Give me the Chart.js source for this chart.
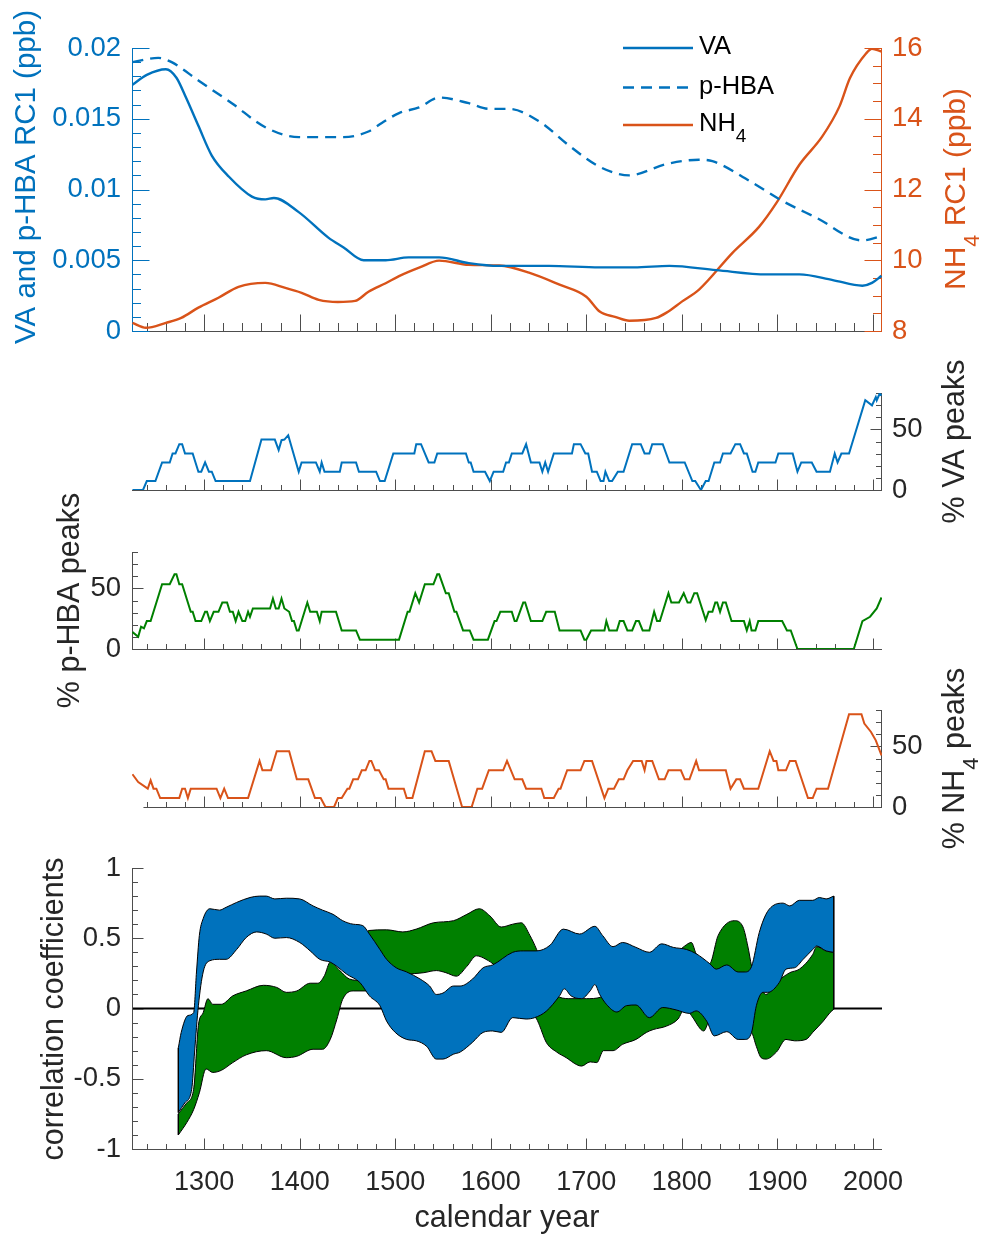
<!DOCTYPE html>
<html>
<head>
<meta charset="utf-8">
<title>VA, p-HBA and NH4 records</title>
<script src="https://cdn.jsdelivr.net/npm/chart.js@4.4.1/dist/chart.umd.min.js"></script>
<style>
  html, body { margin: 0; padding: 0; background: #fff; }
  #wrap { position: relative; width: 981px; height: 1234px; }
  #wrap canvas { position: absolute; left: 0; top: 0; }
</style>
</head>
<body>
<div id="wrap">
  <canvas id="rcChart" width="981" height="1234"></canvas>
  <canvas id="vaPeakChart" width="981" height="1234"></canvas>
  <canvas id="hbaPeakChart" width="981" height="1234"></canvas>
  <canvas id="nhPeakChart" width="981" height="1234"></canvas>
  <canvas id="corrChart" width="981" height="1234"></canvas>
</div>
<script>
const FONT = "'Liberation Sans', Arial, Helvetica, sans-serif";
const BLUE = "#0072BD";
const ORANGE = "#D95319";
const GREEN = "#008000";
const AXIS = "#4d4d4d";
const TEXT = "#262626";

const yearMin = 1224.5;
const yearMax = 2009.5;

// top panel: RC1 reconstructions [year, value]
const vaRC = [[1225,0.0174],[1240,0.0181],[1260,0.0185],[1271,0.0179],[1281,0.0165],[1294,0.0145],[1308,0.0124],[1326,0.0109],[1350,0.0095],[1364,0.0093],[1373,0.0094],[1399,0.0084],[1430,0.0066],[1446,0.0059],[1467,0.0050],[1490,0.0050],[1514,0.0052],[1546,0.0052],[1577,0.0048],[1609,0.0046],[1661,0.0046],[1714,0.0045],[1750,0.0045],[1787,0.0046],[1836,0.0043],[1889,0.0040],[1923,0.0040],[1958,0.0036],[1989,0.0032],[1999,0.0034],[2009,0.0039]];
const hbaRC = [[1225,0.0190],[1252,0.0193],[1266,0.0190],[1294,0.0177],[1329,0.0161],[1364,0.0144],[1399,0.0137],[1420,0.0137],[1446,0.0137],[1472,0.0141],[1486,0.0147],[1504,0.0154],[1525,0.0158],[1546,0.0165],[1577,0.0161],[1598,0.0157],[1619,0.0157],[1651,0.0148],[1682,0.0131],[1714,0.0116],[1745,0.0110],[1784,0.0118],[1818,0.0121],[1832,0.0120],[1871,0.0106],[1905,0.0092],[1941,0.0080],[1989,0.0064],[2009,0.0067]];
const nhRC = [[1225,8.23],[1239,8.09],[1260,8.23],[1276,8.37],[1294,8.66],[1315,8.94],[1336,9.25],[1364,9.36],[1385,9.22],[1402,9.08],[1420,8.88],[1440,8.82],[1458,8.85],[1472,9.11],[1490,9.35],[1504,9.55],[1525,9.79],[1546,9.99],[1577,9.87],[1609,9.85],[1640,9.65],[1672,9.31],[1700,8.97],[1714,8.55],[1730,8.40],[1745,8.29],[1773,8.37],[1784,8.52],[1800,8.83],[1818,9.17],[1853,10.21],[1881,10.95],[1899,11.62],[1923,12.7],[1947,13.5],[1965,14.35],[1976,15.15],[1993,15.85],[1999,15.98],[2009,15.9]];

// peak percentages [year, %]
const vaPeaks = [[1225,0],[1236,0],[1240,7.4],[1249,7.4],[1256,22.7],[1264,22.7],[1267,30.1],[1270,30.1],[1274,37.8],[1277,37.8],[1280,30.1],[1288,30.1],[1294,15.1],[1297,15.1],[1301,22.7],[1305,15.1],[1308,15.1],[1312,7.4],[1348,7.4],[1360,41.6],[1374,41.6],[1378,32.9],[1381,41.1],[1384,41.6],[1388,45.2],[1399,15.1],[1402,22.7],[1417,22.7],[1421,15.1],[1423,22.7],[1426,15.1],[1442,15.1],[1444,22.7],[1459,22.7],[1462,15.1],[1480,15.1],[1484,7.4],[1489,7.4],[1498,30.1],[1520,30.1],[1522,37.8],[1527,37.8],[1535,22.7],[1541,22.7],[1544,30.1],[1574,30.1],[1577,22.7],[1579,22.7],[1582,15.1],[1594,15.1],[1599,7.4],[1603,15.1],[1613,15.1],[1616,22.7],[1619,22.7],[1622,30.1],[1633,30.1],[1637,37.8],[1642,22.7],[1651,22.7],[1654,15.1],[1657,22.7],[1660,15.1],[1666,30.1],[1685,30.1],[1687,37.8],[1694,37.8],[1699,30.1],[1702,30.1],[1706,15.1],[1711,15.1],[1715,7.4],[1718,7.4],[1720,15.1],[1724,7.4],[1727,7.4],[1733,15.1],[1739,15.1],[1748,37.8],[1757,37.8],[1761,30.1],[1766,30.1],[1769,37.8],[1780,37.8],[1787,22.7],[1803,22.7],[1811,7.4],[1814,7.4],[1820,0],[1825,7.4],[1828,7.4],[1834,22.7],[1840,22.7],[1843,30.1],[1851,30.1],[1856,37.8],[1861,37.8],[1865,30.1],[1868,30.1],[1874,15.1],[1877,15.1],[1880,22.7],[1898,22.7],[1901,30.1],[1916,30.1],[1921,15.1],[1925,22.7],[1936,22.7],[1941,15.1],[1955,15.1],[1960,30.1],[1963,22.7],[1967,30.1],[1975,30.1],[1992,74],[1999,69.8],[2003,76.7],[2004,74],[2007,79.4],[2009,78]];
const hbaPeaks = [[1225,14],[1231,10.1],[1234,18.4],[1237,17],[1240,23],[1244,23],[1256,53.4],[1264,53.4],[1269,61.6],[1271,61.6],[1274,53.4],[1277,53.4],[1286,30.7],[1288,30.7],[1291,23],[1297,23],[1301,30.7],[1303,30.7],[1306,23],[1310,30.7],[1315,30.7],[1319,38.3],[1324,38.3],[1327,30.7],[1330,30.7],[1333,23],[1336,30.7],[1340,23],[1343,23],[1346,30.7],[1348,26.6],[1351,33.4],[1369,33.4],[1372,41.6],[1375,33.4],[1378,33.4],[1381,41.6],[1384,33.4],[1389,30.7],[1392,23],[1394,23],[1397,15.3],[1399,15.3],[1408,38.3],[1411,30.7],[1418,30.7],[1421,23],[1423,30.7],[1438,30.7],[1444,15.3],[1459,15.3],[1463,7.7],[1504,7.7],[1513,30.7],[1515,30.7],[1521,46],[1525,38.3],[1531,53.4],[1540,53.4],[1544,61.6],[1546,61.6],[1553,46],[1556,46],[1562,30.7],[1564,30.7],[1571,15.3],[1578,15.3],[1582,7.7],[1597,7.7],[1604,23],[1606,23],[1610,30.7],[1622,30.7],[1625,23],[1627,23],[1634,38.3],[1636,38.3],[1642,23],[1654,23],[1658,30.7],[1667,30.7],[1672,15.3],[1694,15.3],[1698,7.7],[1700,7.7],[1705,15.3],[1719,15.3],[1721,23],[1724,15.3],[1732,15.3],[1735,23],[1739,23],[1743,15.3],[1748,15.3],[1752,23],[1755,23],[1759,15.3],[1766,15.3],[1771,30.7],[1774,23],[1777,23],[1786,46],[1789,38.3],[1797,38.3],[1802,46],[1806,38.3],[1809,38.3],[1813,46],[1816,46],[1825,23.8],[1828,30.7],[1832,30.7],[1835,38.3],[1837,38.3],[1840,30.7],[1843,38.3],[1846,38.3],[1852,23],[1865,23],[1868,15.3],[1871,23],[1873,15.3],[1877,15.3],[1880,23],[1905,23],[1910,15.3],[1914,15.3],[1921,0],[1980,0],[1989,23],[1997,26.6],[2004,33.4],[2009,42.5]];
const nhPeaks = [[1225,27],[1231,20.6],[1241,15.1],[1244,22],[1247,15.1],[1250,15.1],[1254,7.4],[1274,7.4],[1277,15.1],[1280,15.1],[1283,7.4],[1286,15.1],[1313,15.1],[1317,7.4],[1321,15.1],[1325,7.4],[1346,7.4],[1358,38],[1361,30.3],[1370,30.3],[1376,46],[1389,46],[1397,22.8],[1409,22.8],[1416,7.4],[1422,7.4],[1427,0],[1436,0],[1440,7.4],[1444,7.4],[1450,15.1],[1452,15.1],[1456,22.8],[1461,22.8],[1465,30.3],[1469,30.3],[1473,38],[1475,38],[1479,30.3],[1483,30.3],[1488,22.8],[1490,22.8],[1493,15.1],[1509,15.1],[1512,7.4],[1518,7.4],[1531,46],[1538,46],[1542,38],[1556,38],[1570,0],[1580,0],[1586,15.1],[1591,15.1],[1598,30.3],[1613,30.3],[1617,38],[1625,22.8],[1633,22.8],[1637,15.1],[1653,15.1],[1656,7.4],[1666,7.4],[1671,15.1],[1673,15.1],[1680,30.3],[1694,30.3],[1698,38],[1706,38],[1719,7.4],[1723,15.1],[1729,15.1],[1734,22.8],[1739,22.8],[1743,30.3],[1749,38],[1758,38],[1761,30.3],[1763,38],[1769,38],[1776,22.8],[1782,22.8],[1786,30.3],[1799,30.3],[1803,22.8],[1808,22.8],[1815,38],[1818,30.3],[1846,30.3],[1851,15.1],[1857,22.8],[1861,22.8],[1865,15.1],[1880,15.1],[1892,46],[1896,38],[1899,38],[1901,30.3],[1909,30.3],[1913,38],[1919,38],[1932,7.4],[1937,7.4],[1941,15.1],[1953,15.1],[1975,76.5],[1988,76.5],[1991,68.8],[1998,61.9],[2003,55],[2009,42.6]];

// correlation bands: upper and lower edges [year, r]
const blueTop = [[1273,-0.28],[1276,-0.17],[1283,-0.05],[1289,-0.03],[1292,0.26],[1295,0.52],[1299,0.64],[1306,0.71],[1316,0.70],[1323,0.72],[1334,0.755],[1348,0.79],[1358,0.80],[1365,0.80],[1374,0.78],[1386,0.785],[1400,0.78],[1414,0.73],[1424,0.70],[1435,0.67],[1445,0.625],[1456,0.60],[1466,0.59],[1473,0.53],[1484,0.42],[1491,0.35],[1501,0.29],[1512,0.26],[1526,0.21],[1536,0.16],[1543,0.10],[1550,0.11],[1561,0.16],[1568,0.16],[1581,0.21],[1592,0.29],[1602,0.31],[1623,0.40],[1634,0.41],[1648,0.41],[1662,0.45],[1676,0.565],[1693,0.53],[1709,0.585],[1717,0.52],[1728,0.44],[1738,0.47],[1752,0.435],[1766,0.40],[1779,0.46],[1791,0.435],[1805,0.42],[1815,0.39],[1829,0.32],[1836,0.28],[1847,0.31],[1859,0.26],[1866,0.26],[1873,0.30],[1881,0.54],[1888,0.67],[1895,0.73],[1906,0.75],[1913,0.73],[1923,0.77],[1937,0.77],[1944,0.79],[1951,0.78],[1959,0.80]];
const blueBot = [[1273,-0.74],[1280,-0.67],[1287,-0.575],[1290,-0.31],[1294,0.02],[1299,0.26],[1306,0.34],[1316,0.35],[1323,0.35],[1334,0.42],[1344,0.505],[1355,0.545],[1365,0.53],[1374,0.50],[1386,0.505],[1400,0.47],[1411,0.41],[1421,0.35],[1432,0.33],[1439,0.30],[1449,0.245],[1463,0.185],[1473,0.09],[1484,0.02],[1491,-0.09],[1500,-0.17],[1512,-0.22],[1522,-0.23],[1533,-0.27],[1543,-0.36],[1550,-0.36],[1561,-0.325],[1568,-0.31],[1581,-0.24],[1592,-0.17],[1602,-0.16],[1611,-0.17],[1623,-0.065],[1637,-0.075],[1646,-0.065],[1658,-0.02],[1672,0.09],[1677,0.14],[1684,0.09],[1695,0.07],[1704,0.125],[1709,0.17],[1714,0.10],[1721,0.03],[1732,-0.025],[1742,0.02],[1752,0.025],[1766,-0.065],[1780,0.007],[1794,-0.01],[1808,-0.035],[1815,-0.017],[1826,-0.09],[1834,-0.195],[1847,-0.165],[1859,-0.22],[1866,-0.22],[1873,-0.17],[1878,0.02],[1885,0.115],[1890,0.115],[1902,0.185],[1909,0.28],[1918,0.29],[1927,0.35],[1937,0.42],[1941,0.445],[1951,0.41],[1959,0.40]];
const greenTop = [[1273,-0.75],[1282,-0.67],[1289,-0.575],[1294,-0.12],[1299,-0.03],[1304,0.07],[1309,0.03],[1318,0.03],[1330,0.09],[1344,0.125],[1362,0.165],[1376,0.15],[1386,0.115],[1397,0.125],[1411,0.18],[1419,0.18],[1426,0.235],[1432,0.33],[1442,0.27],[1452,0.21],[1464,0.20],[1472,0.555],[1491,0.56],[1508,0.545],[1522,0.565],[1540,0.61],[1561,0.625],[1575,0.67],[1588,0.71],[1599,0.66],[1611,0.58],[1623,0.60],[1632,0.61],[1641,0.52],[1648,0.42],[1660,0.2],[1672,0.08],[1684,0.07],[1700,0.07],[1715,0.08],[1740,0.2],[1770,0.3],[1795,0.40],[1803,0.445],[1810,0.47],[1815,0.39],[1829,0.32],[1838,0.52],[1855,0.625],[1864,0.58],[1869,0.445],[1873,0.30],[1878,0.15],[1885,0.115],[1888,0.10],[1899,0.185],[1913,0.255],[1923,0.28],[1937,0.385],[1941,0.44],[1951,0.41],[1959,0.40]];
const greenBot = [[1273,-0.9],[1282,-0.81],[1289,-0.72],[1295,-0.6],[1302,-0.43],[1309,-0.455],[1318,-0.44],[1330,-0.385],[1344,-0.33],[1365,-0.30],[1386,-0.35],[1397,-0.34],[1414,-0.29],[1424,-0.29],[1432,-0.22],[1439,-0.075],[1445,0.065],[1456,0.125],[1470,0.125],[1490,0.2],[1510,0.24],[1530,0.255],[1543,0.27],[1553,0.255],[1564,0.23],[1575,0.30],[1585,0.375],[1595,0.35],[1605,0.30],[1625,0.1],[1648,-0.075],[1651,-0.12],[1658,-0.24],[1669,-0.31],[1679,-0.35],[1690,-0.40],[1695,-0.41],[1704,-0.38],[1711,-0.385],[1718,-0.30],[1728,-0.30],[1738,-0.255],[1752,-0.22],[1763,-0.17],[1770,-0.15],[1784,-0.125],[1796,-0.075],[1803,0.0],[1810,-0.05],[1820,-0.15],[1823,-0.16],[1829,-0.09],[1850,-0.1],[1866,-0.15],[1873,-0.17],[1878,-0.27],[1883,-0.35],[1888,-0.36],[1899,-0.31],[1909,-0.22],[1918,-0.23],[1930,-0.22],[1937,-0.17],[1948,-0.09],[1955,-0.03],[1959,-0.005]];

const xTickStep = 20;
const xLabelStep = 100;

const pts = arr => arr.map(p => ({ x: p[0], y: p[1] }));
const isMultiple = (v, step) => Math.abs(v / step - Math.round(v / step)) < 1e-6;

// draws text, "_4" style markers become subscripts
function richText(ctx, text, x, y, size, color, rotated) {
  const parts = text.split(/_(\w)/);
  const subSize = size * 0.72;
  const fontFor = i => (i % 2 ? subSize : size) + "px " + FONT;
  const widths = parts.map((p, i) => { ctx.font = fontFor(i); return ctx.measureText(p).width; });
  const total = widths.reduce((s, w) => s + w, 0);
  ctx.save();
  ctx.translate(x, y);
  if (rotated) ctx.rotate(-Math.PI / 2);
  ctx.fillStyle = color;
  ctx.textAlign = "left";
  ctx.textBaseline = "alphabetic";
  let cx = -total / 2;
  parts.forEach((p, i) => {
    ctx.font = fontFor(i);
    ctx.fillText(p, cx, i % 2 ? size * 0.45 : 0);
    cx += widths[i];
  });
  ctx.restore();
}

// axis lines with inward ticks
function axisLines(specs) {
  return {
    id: "axisLines",
    beforeDatasetsDraw(chart) {
      const { ctx, chartArea: a } = chart;
      specs.forEach(s => {
        const sc = chart.scales[s.id];
        ctx.save();
        ctx.strokeStyle = s.color;
        ctx.lineWidth = 1;
        ctx.beginPath();
        if (s.side === "bottom") {
          const y = Math.round(a.bottom) + 0.5;
          const x0 = s.from !== undefined ? sc.getPixelForValue(s.from) : a.left;
          ctx.moveTo(x0, y);
          ctx.lineTo(a.right, y);
          sc.ticks.forEach(t => {
            const len = isMultiple(t.value, s.major) ? s.len : s.len / 2;
            const x = Math.round(sc.getPixelForValue(t.value)) + 0.5;
            ctx.moveTo(x, y);
            ctx.lineTo(x, y - len);
          });
        } else {
          const x = s.side === "left" ? Math.round(a.left) + 0.5 : Math.round(a.right) - 0.5;
          const dir = s.side === "left" ? 1 : -1;
          ctx.moveTo(x, a.top);
          ctx.lineTo(x, a.bottom + 1);
          sc.ticks.forEach(t => {
            const len = isMultiple(t.value, s.major) ? s.len : s.len / 2;
            const y = Math.round(sc.getPixelForValue(t.value)) + 0.5;
            ctx.moveTo(x, y);
            ctx.lineTo(x + dir * len, y);
          });
        }
        ctx.stroke();
        ctx.restore();
      });
    }
  };
}

function titles(items) {
  return {
    id: "titles",
    afterDraw(chart) {
      items.forEach(t => richText(chart.ctx, t.text, t.x, t.y, t.size, t.color, t.rotated));
    }
  };
}

// fixed axis sizes so every panel lines up
const leftAxisWidth = 120;
const rightAxisWidth = 90;
const bottomAxisHeight = 70;

function xAxis(withLabels) {
  return {
    type: "linear",
    min: yearMin,
    max: yearMax,
    afterFit: s => { s.height = withLabels ? bottomAxisHeight : 0; },
    grid: { display: false, drawTicks: false },
    border: { display: false },
    ticks: {
      stepSize: xTickStep,
      includeBounds: false,
      autoSkip: false,
      maxRotation: 0,
      minRotation: 0,
      padding: 17,
      color: TEXT,
      font: { family: FONT, size: 27 },
      callback: v => (withLabels && isMultiple(v, xLabelStep) ? String(v) : "")
    }
  };
}

function yAxis(position, min, max, step, labelStep, digits, color) {
  return {
    type: "linear",
    position: position,
    min: min,
    max: max,
    afterFit: s => { s.width = position === "left" ? leftAxisWidth : rightAxisWidth; },
    grid: { display: false, drawTicks: false },
    border: { display: false },
    ticks: {
      stepSize: step,
      includeBounds: false,
      autoSkip: false,
      padding: position === "left" ? 11 : 10,
      color: color,
      font: { family: FONT, size: 27.5 },
      callback: v => (isMultiple(v, labelStep) ? String(+v.toFixed(digits)) : "")
    }
  };
}

function baseOptions(padding, scales) {
  return {
    responsive: false,
    animation: false,
    devicePixelRatio: 1,
    events: [],
    layout: { padding: padding, autoPadding: false },
    plugins: { legend: { display: false }, tooltip: { enabled: false } },
    elements: { point: { radius: 0 } },
    scales: scales
  };
}

// ---- panel 1: RC1 curves ----
const legendPlugin = {
  id: "rcLegend",
  afterDraw(chart) {
    const ctx = chart.ctx;
    const rows = [48, 87.5, 125];
    chart.data.datasets.forEach((ds, i) => {
      ctx.save();
      ctx.strokeStyle = ds.borderColor;
      ctx.lineWidth = ds.borderWidth;
      ctx.setLineDash(ds.borderDash || []);
      ctx.beginPath();
      ctx.moveTo(623, rows[i]);
      ctx.lineTo(693, rows[i]);
      ctx.stroke();
      ctx.restore();
      ctx.save();
      const parts = ds.label.split(/_(\w)/);
      let cx = 699;
      parts.forEach((p, k) => {
        ctx.font = (k % 2 ? 19 : 25.5) + "px " + FONT;
        ctx.fillStyle = "#000";
        ctx.fillText(p, cx, rows[i] + 6 + (k % 2 ? 11 : 0));
        cx += ctx.measureText(p).width;
      });
      ctx.restore();
    });
  }
};

new Chart(document.getElementById("rcChart"), {
  type: "line",
  data: {
    datasets: [
      { label: "VA", data: pts(vaRC), yAxisID: "y", borderColor: BLUE, borderWidth: 2.4, cubicInterpolationMode: "monotone", fill: false },
      { label: "p-HBA", data: pts(hbaRC), yAxisID: "y", borderColor: BLUE, borderWidth: 2.4, borderDash: [11, 7], cubicInterpolationMode: "monotone", fill: false },
      { label: "NH_4", data: pts(nhRC), yAxisID: "y2", borderColor: ORANGE, borderWidth: 2.4, cubicInterpolationMode: "monotone", fill: false }
    ]
  },
  options: baseOptions({ left: 132 - leftAxisWidth, right: 99 - rightAxisWidth, top: 48, bottom: 903 }, {
    x: xAxis(false),
    y: yAxis("left", 0, 0.02, 0.001, 0.005, 3, BLUE),
    y2: yAxis("right", 8, 16, 0.5, 2, 0, ORANGE)
  }),
  plugins: [
    axisLines([
      { id: "x", side: "bottom", color: AXIS, len: 17, major: 100 },
      { id: "y", side: "left", color: BLUE, len: 17, major: 0.005 },
      { id: "y2", side: "right", color: ORANGE, len: 17, major: 2 }
    ]),
    titles([
      { text: "VA and p-HBA RC1 (ppb)", x: 35, y: 177, size: 29.5, color: BLUE, rotated: true },
      { text: "NH_4 RC1 (ppb)", x: 965, y: 189, size: 30, color: ORANGE, rotated: true }
    ]),
    legendPlugin
  ]
});

// ---- panels 2-4: peak percentages ----
function peakPanel(id, data, color, side, top, title, xFrom) {
  const bottom = 1234 - top - 97;
  const padding = side === "left"
    ? { left: 132 - leftAxisWidth, right: 99, top: top, bottom: bottom }
    : { left: 132, right: 99 - rightAxisWidth, top: top, bottom: bottom };
  new Chart(document.getElementById(id), {
    type: "line",
    data: { datasets: [{ label: title, data: pts(data), borderColor: color, borderWidth: 2, tension: 0, fill: false }] },
    options: baseOptions(padding, {
      x: xAxis(false),
      y: yAxis(side, 0, 80, 10, 50, 0, TEXT)
    }),
    plugins: [
      axisLines([
        { id: "x", side: "bottom", color: AXIS, len: 11, major: 100, from: xFrom },
        { id: "y", side: side, color: AXIS, len: 11, major: 50 }
      ]),
      titles([{
        text: title,
        x: side === "left" ? 79 : 964,
        y: top + 97 / 2,
        size: 30.5, color: TEXT, rotated: true
      }])
    ]
  });
}

peakPanel("vaPeakChart", vaPeaks, BLUE, "right", 393, "% VA peaks");
peakPanel("hbaPeakChart", hbaPeaks, GREEN, "left", 552, "% p-HBA peaks");
peakPanel("nhPeakChart", nhPeaks, ORANGE, "right", 710, "% NH_4 peaks", 1236.5);

// ---- panel 5: correlation bands ----
const zeroLine = {
  id: "zeroLine",
  beforeDatasetsDraw(chart) {
    const { ctx, chartArea: a, scales } = chart;
    const y = scales.y.getPixelForValue(0);
    ctx.save();
    ctx.strokeStyle = "#000";
    ctx.lineWidth = 2;
    ctx.beginPath();
    ctx.moveTo(a.left, y);
    ctx.lineTo(a.right, y);
    ctx.stroke();
    ctx.restore();
  }
};

function edge(top, bot, i) {
  const a = top[i < 0 ? top.length - 1 : i];
  const b = bot[i < 0 ? bot.length - 1 : i];
  return {
    data: [{ x: a[0], y: a[1] }, { x: b[0], y: b[1] }],
    borderColor: "#000", borderWidth: 1, fill: false, order: 0
  };
}

const bandLine = { borderColor: "#000", borderWidth: 1, cubicInterpolationMode: "monotone" };

new Chart(document.getElementById("corrChart"), {
  type: "line",
  data: {
    datasets: [
      Object.assign({ label: "VA upper", data: pts(blueTop), fill: 1, backgroundColor: BLUE, order: 2 }, bandLine),
      Object.assign({ label: "VA lower", data: pts(blueBot), fill: false, order: 1 }, bandLine),
      Object.assign({ label: "p-HBA upper", data: pts(greenTop), fill: 3, backgroundColor: GREEN, order: 4 }, bandLine),
      Object.assign({ label: "p-HBA lower", data: pts(greenBot), fill: false, order: 3 }, bandLine),
      edge(blueTop, blueBot, 0),
      edge(blueTop, blueBot, -1),
      edge(greenTop, greenBot, 0),
      edge(greenTop, greenBot, -1)
    ]
  },
  options: baseOptions({ left: 132 - leftAxisWidth, right: 99, top: 868, bottom: 1234 - 1149 - bottomAxisHeight }, {
    x: xAxis(true),
    y: yAxis("left", -1, 1, 0.1, 0.5, 1, TEXT)
  }),
  plugins: [
    zeroLine,
    axisLines([
      { id: "x", side: "bottom", color: AXIS, len: 11, major: 100 },
      { id: "y", side: "left", color: AXIS, len: 11, major: 0.5 }
    ]),
    titles([
      { text: "correlation coefficients", x: 63, y: 1009, size: 30.5, color: TEXT, rotated: true },
      { text: "calendar year", x: 507, y: 1227, size: 30.5, color: TEXT, rotated: false }
    ])
  ]
});
</script>
</body>
</html>
